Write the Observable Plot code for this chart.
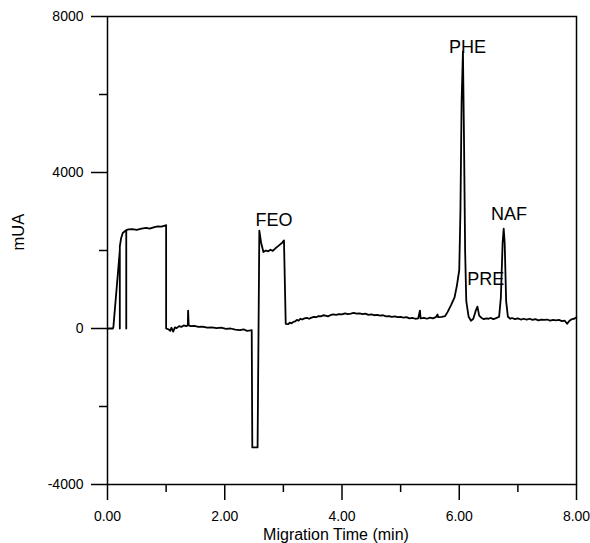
<!DOCTYPE html>
<html>
<head>
<meta charset="utf-8">
<script src="https://cdn.jsdelivr.net/npm/d3@7"></script>
<script src="https://cdn.jsdelivr.net/npm/@observablehq/plot@0.6"></script>
<style>
  html, body { margin: 0; padding: 0; background: #fff; }
  #chart { width: 590px; height: 543px; overflow: hidden; }
</style>
</head>
<body>
<div id="chart"></div>
<script>
// Migration time (min)
const time = [
  0.00, 0.09, 0.10, 0.21, 0.21, 0.21, 0.23, 0.26, 0.30, 0.32, 0.32, 0.32,
  0.36, 0.42, 0.50, 0.58, 0.66, 0.72, 0.80, 0.86, 0.92, 0.98, 1.00, 1.00,
  1.04, 1.07, 1.09, 1.12, 1.15, 1.18, 1.22, 1.26, 1.30, 1.34, 1.37, 1.375, 1.385,
  1.42, 1.48, 1.55, 1.62, 1.70, 1.78, 1.86, 1.94, 2.02, 2.10, 2.18, 2.26, 2.32,
  2.38, 2.44, 2.46, 2.47, 2.56, 2.59, 2.62, 2.66, 2.70, 2.74, 2.78, 2.82, 2.86,
  2.90, 2.94, 2.98, 3.01, 3.04, 3.08, 3.11, 3.14, 3.17, 3.20, 3.23, 3.26, 3.29,
  3.32, 3.36, 3.40, 3.44, 3.48, 3.52, 3.56, 3.60, 3.64, 3.68, 3.72, 3.76, 3.80,
  3.85, 3.90, 3.95, 4.00, 4.05, 4.10, 4.15, 4.20, 4.25, 4.30, 4.35, 4.40, 4.45,
  4.50, 4.55, 4.60, 4.65, 4.70, 4.75, 4.80, 4.85, 4.90, 4.95, 5.00, 5.05, 5.10,
  5.15, 5.20, 5.25, 5.30, 5.33, 5.34, 5.40, 5.45, 5.50, 5.55, 5.60, 5.63, 5.64,
  5.70, 5.76, 5.80, 5.86, 5.92, 5.96, 6.00, 6.02, 6.04, 6.063, 6.08, 6.10, 6.12,
  6.16, 6.20, 6.24, 6.28, 6.31, 6.34, 6.38, 6.42, 6.46, 6.50, 6.54, 6.58, 6.62,
  6.68, 6.71, 6.74, 6.758, 6.775, 6.80, 6.83, 6.87, 6.90, 6.95, 7.00, 7.05, 7.10,
  7.15, 7.20, 7.25, 7.30, 7.35, 7.40, 7.45, 7.50, 7.55, 7.60, 7.65, 7.70, 7.75,
  7.80, 7.84, 7.88, 7.92, 7.96, 8.00
];
// Detector signal (mUA)
const signal = [
  0, 0, 30, 2000, 0, 2100, 2300, 2450, 2500, 2510, 0, 2520,
  2540, 2550, 2530, 2560, 2580, 2560, 2600, 2620, 2610, 2640, 2650, 0,
  -20, -60, 20, -80, 30, 10, 60, 40, 80, 60, 80, 460, 80,
  60, 70, 40, 50, 20, 30, 10, 20, -10, 0, -30, -40, -20,
  -60, -50, -40, -3050, -3050, 2510, 2200, 1960, 2000, 1980, 2020, 1990, 2050,
  2100, 2150, 2200, 2260, 120, 110, 150, 130, 170, 180, 220, 200, 250,
  230, 260, 270, 250, 280, 300, 290, 320, 310, 340, 330, 310, 340,
  360, 350, 370, 360, 390, 370, 380, 400, 380, 390, 370, 380, 350,
  360, 340, 350, 330, 340, 310, 320, 300, 310, 290, 300, 280, 290,
  260, 270, 250, 260, 460, 260, 270, 250, 280, 260, 290, 360, 290,
  300, 320, 420, 600, 800, 1100, 1500, 3000, 5800, 7100, 5000, 2000, 700,
  300, 200, 250, 450, 560, 330, 270, 240, 260, 250, 270, 240, 260,
  300, 800, 2200, 2560, 2200, 700, 300, 250, 270, 240, 260, 230, 250,
  230, 250, 220, 240, 210, 230, 220, 230, 200, 220, 210, 220, 190,
  200, 120, 200, 240, 250, 290
];

// Peak labels
const peakNames = ["FEO", "PHE", "PRE", "NAF"];
const peakX = [2.84, 6.14, 6.45, 6.85];
const peakY = [2770, 7210, 1274, 2940];

// Tick values
const xMajorTicks = [0, 2, 4, 6, 8];
const xMinorTicks = [1, 3, 5, 7];
const yMajorTicks = [-4000, 0, 4000, 8000];
const yMinorTicks = [-2000, 2000, 6000];

// Axis titles
const xTitle = "Migration Time (min)";
const yTitle = "mUA";

const trace = time.map((t, i) => ({t, v: signal[i]}));
const peaks = peakNames.map((n, i) => ({n, x: peakX[i], y: peakY[i]}));

const chart = Plot.plot({
  width: 590,
  height: 543,
  marginLeft: 107,
  marginRight: 14,
  marginTop: 16,
  marginBottom: 59,
  style: {fontFamily: "'Liberation Sans', Arial, sans-serif", background: "#fff", color: "#000"},
  x: {domain: [0, 8]},
  y: {domain: [-4000, 8000]},
  marks: [
    Plot.frame({stroke: "#000", strokeWidth: 1.5}),
    Plot.axisX(xMajorTicks, {tickSize: 16, tickPadding: 11, tickFormat: d => d.toFixed(2), fontSize: 14, strokeWidth: 1.5, label: null}),
    Plot.axisX(xMinorTicks, {tickSize: 8, tickFormat: () => "", strokeWidth: 1.5, label: null}),
    Plot.axisY(yMajorTicks, {tickSize: 16, tickPadding: 8, tickFormat: d => String(d), fontSize: 14, strokeWidth: 1.5, label: null}),
    Plot.axisY(yMinorTicks, {tickSize: 8, tickFormat: () => "", strokeWidth: 1.5, label: null}),
    Plot.text([xTitle], {frameAnchor: "bottom", dx: -6, dy: 44, fontSize: 16, fill: "#000", lineAnchor: "top"}),
    Plot.text([yTitle], {frameAnchor: "left", dx: -89, rotate: -90, fontSize: 16.5, fill: "#000", lineAnchor: "middle"}),
    Plot.line(trace, {x: "t", y: "v", stroke: "#000", strokeWidth: 1.8, curve: "linear"}),
    Plot.text(peaks, {x: "x", y: "y", text: "n", fontSize: 18, fill: "#000"})
  ]
});
document.getElementById("chart").appendChild(chart);
</script>
</body>
</html>
